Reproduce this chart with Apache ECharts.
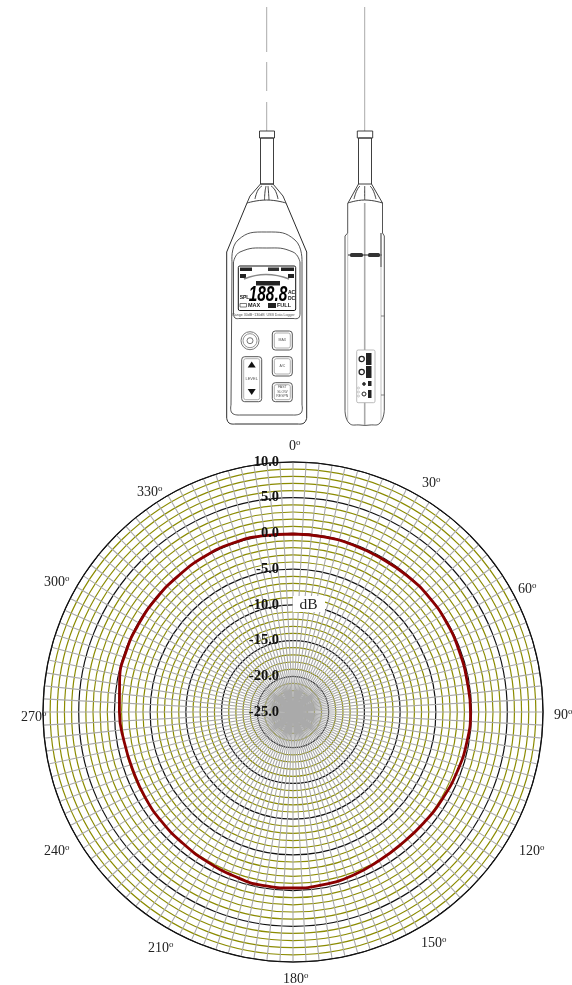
<!DOCTYPE html>
<html>
<head>
<meta charset="utf-8">
<style>html,body{margin:0;padding:0;background:#fff}#box{width:572px;height:985px;overflow:hidden}</style>
<script src="https://cdn.jsdelivr.net/npm/echarts@6/dist/echarts.min.js"></script>
</head>
<body>
<div id="box"></div>
<script>
var chart = echarts.init(document.getElementById('box'));

// response curve (degrees / dB)
var curveAngles = [0, 10, 20, 30, 40, 50, 60, 70, 80, 90, 100, 110, 120, 130, 140, 150, 160, 170, 180, 190, 200, 210, 220, 230, 240, 250, 260, 270, 280, 290, 300, 310, 320, 330, 340, 350, 360];
var curveDb = [-0.08, -0.1, -0.15, -0.2, -0.12, -0.08, -0.12, -0.22, -0.25, -0.15, -0.3, -0.55, -0.8, -1.0, -1.1, -0.95, -0.65, -0.45, -0.36, -0.35, -0.6, -0.85, -1.0, -1.05, -1.1, -1.15, -1.0, -0.7, -0.35, -0.15, -0.13, -0.12, -0.08, 0.05, 0.1, 0.03, -0.08];
var dbTicks = { min: -25, max: 10, step: 5 };
var angleTicks = { min: 0, max: 360, step: 30 };
var angleLabels = ['0', '30', '60', '90', '120', '150', '180', '210', '240', '270', '300', '330'];
// where each angle label starts (left edge, middle), the spacing round the rim is uneven
var angleLabelSpots = [[289, 446], [422, 483], [518, 589], [554, 715], [519, 851], [421, 943], [283, 979], [148, 948], [44, 851], [21, 717], [44, 582], [137, 492]];

var INK = '#2a2a2a';

// small helpers for the meter drawing
function line(pts, color, w) {
  return { type: 'polyline', silent: true, shape: { points: pts }, style: { stroke: color || INK, lineWidth: w || 0.9, fill: null } };
}
function box(x, y, w, h, r, stroke, fill, lw) {
  return { type: 'rect', silent: true, shape: { x: x, y: y, width: w, height: h, r: r || 0 }, style: { stroke: stroke === undefined ? INK : stroke, fill: fill || null, lineWidth: lw || 0.9 } };
}
function ring(x, y, r, stroke, fill, lw) {
  return { type: 'circle', silent: true, shape: { cx: x, cy: y, r: r }, style: { stroke: stroke || null, fill: fill || null, lineWidth: lw || 0.8 } };
}
function txt(s, x, y, size, o) {
  o = o || {};
  return { type: 'text', silent: true, x: x, y: y, scaleX: o.squeeze || 1, style: { text: s, fontSize: size, fontFamily: o.family || 'Liberation Sans', fontWeight: o.weight || 'normal', fontStyle: o.italic ? 'italic' : 'normal', fill: o.color || '#222', align: o.align || 'center', verticalAlign: 'middle' } };
}
function curve(pts, color, w) {
  return { type: 'polyline', silent: true, shape: { points: pts, smooth: 0.5 }, style: { stroke: color || INK, lineWidth: w || 0.9, fill: null } };
}

var meterFront = [
  // antenna, dashed
  line([[266.7, 7], [266.7, 52]], '#aaa', 1),
  line([[266.7, 62], [266.7, 91]], '#aaa', 1),
  line([[266.7, 102], [266.7, 131]], '#aaa', 1),
  box(259.5, 131, 15, 7, 0),
  box(260.5, 138, 13, 46, 0),
  // collar
  line([[260.5, 184], [273, 184]]),
  line([[260.5, 184], [250, 196], [247, 203]]),
  line([[273, 184], [283, 196], [286, 203]]),
  curve([[247, 203], [266.7, 200], [286, 203]]),
  curve([[255, 199], [258, 190], [262, 186]]),
  curve([[264.5, 200], [265, 192], [266, 186]]),
  curve([[269, 200], [268.5, 192], [268, 186]]),
  curve([[278, 199], [275, 190], [271, 186]]),
  // body
  line([[247, 203], [226.7, 252], [226.7, 418]], INK, 1),
  line([[286, 203], [306.7, 252], [306.7, 418]], INK, 1),
  curve([[226.7, 418], [229, 423], [235, 424]], INK, 1),
  curve([[306.7, 418], [304, 423], [298, 424]], INK, 1),
  line([[235, 424], [298, 424]], INK, 1),
  // face
  curve([[232, 262], [238, 240], [266.7, 232], [295, 240], [302, 262]], INK, 0.8),
  line([[232, 262], [231, 405]], INK, 0.8),
  line([[302, 262], [302, 405]], INK, 0.8),
  curve([[231, 405], [232, 413], [240, 415]], INK, 0.8),
  curve([[302, 405], [301, 413], [293, 415]], INK, 0.8),
  line([[240, 415], [293, 415]], INK, 0.8),
  // display bezel
  curve([[233.5, 262], [240, 252], [266.7, 248], [293, 252], [300, 262]], INK, 0.8),
  line([[233.5, 262], [233.5, 314]], INK, 0.8),
  line([[300, 262], [300, 314]], INK, 0.8),
  curve([[233.5, 314], [235, 318], [239, 318.5]], INK, 0.8),
  curve([[300, 314], [298.5, 318], [294, 318.5]], INK, 0.8),
  line([[239, 318.5], [294, 318.5]], INK, 0.8),
  // lcd
  box(238.3, 266, 57.4, 44.5, 1.5, '#111', null, 1),
  box(240, 267.5, 12, 3.5, 0, null, '#222'),
  box(268, 267.5, 11, 3.5, 0, null, '#333'),
  box(281, 267.5, 13, 3.5, 0, null, '#222'),
  box(240, 274, 6, 4, 0, null, '#222'),
  box(288, 274, 6, 4, 0, null, '#222'),
  curve([[244, 279], [266, 274.5], [289, 279]], '#888', 1.4),
  box(256, 281, 24, 4.5, 0, null, '#222'),
  txt('188.8', 268, 295, 22, { weight: 'bold', italic: true, color: '#000', squeeze: 0.7 }),
  txt('SPL', 244.5, 298, 5, { weight: 'bold', color: '#111' }),
  txt('AC', 291.5, 293, 5, { weight: 'bold', color: '#111' }),
  txt('DC', 291.5, 299, 5, { weight: 'bold', color: '#111' }),
  box(240, 303.5, 6.5, 3.5, 0, '#444', null, 0.7),
  txt('MAX', 254, 305.5, 5.5, { weight: 'bold', color: '#111' }),
  box(268, 303, 8, 5, 0, null, '#222'),
  txt('FULL', 284, 305.5, 5.5, { weight: 'bold', color: '#111' }),
  txt('Range 30dB~130dB', 248.5, 315, 3.6, { color: '#555' }),
  txt('USB Data Logger', 280.5, 315, 3.6, { color: '#555' }),
  // buttons
  ring(250, 340.7, 9, '#777', null, 1),
  ring(250, 340.7, 7, '#888', null, 0.9),
  ring(250, 340.7, 3, '#555', null, 0.8),
  box(272.3, 331, 20, 19, 3, '#555', null, 1),
  box(274.3, 333, 16, 15, 2, '#999', null, 0.8),
  txt('MAX', 282.3, 340.5, 3.5, { color: '#555' }),
  box(272.3, 356.7, 20, 19.3, 3, '#555', null, 1),
  box(274.3, 358.7, 16, 15.3, 2, '#999', null, 0.8),
  txt('A/C', 282.3, 366.5, 3.5, { color: '#555' }),
  box(272.3, 382.7, 20, 19, 3, '#555', null, 1),
  box(274.3, 384.7, 16, 15, 2, '#999', null, 0.8),
  txt('FAST', 282.3, 387.5, 3.5, { color: '#555' }),
  txt('SLOW', 282.3, 392, 3.5, { color: '#555' }),
  txt('RESPN', 282.3, 396.5, 3.5, { color: '#555' }),
  box(241.7, 356.7, 20, 45, 3, '#555', null, 1),
  box(243.7, 358.7, 16, 41, 2, '#999', null, 0.8),
  { type: 'polygon', silent: true, shape: { points: [[251.7, 361.5], [247.7, 367.5], [255.7, 367.5]] }, style: { fill: '#111' } },
  { type: 'polygon', silent: true, shape: { points: [[251.7, 395], [247.7, 389], [255.7, 389]] }, style: { fill: '#111' } },
  txt('LEVEL', 251.7, 379, 4, { color: '#555' })
];

var meterSide = [
  line([[364.7, 7], [364.7, 131]], '#aaa', 1),
  box(357.3, 131, 15.4, 7, 0),
  box(358.5, 138, 13, 46, 0),
  line([[358.5, 184], [348, 203]]),
  line([[371.5, 184], [382.5, 203]]),
  curve([[348, 203], [364.7, 200], [382.5, 203]]),
  curve([[354, 199], [357, 190], [360, 186]]),
  curve([[364.7, 200], [364.7, 192], [364.7, 186]]),
  curve([[376, 199], [373, 190], [370, 186]]),
  // body
  line([[347.7, 203], [347.7, 233], [345, 236], [345, 410]], INK, 0.8),
  line([[382.5, 203], [382.5, 233], [384.3, 236], [384.3, 410]], INK, 0.8),
  curve([[345, 410], [349, 423], [360, 425], [370, 425], [380, 423], [384.3, 410]], INK, 0.8),
  line([[347.7, 233], [347.7, 420]], '#999', 0.6),
  line([[381, 233], [381, 420]], '#999', 0.6),
  line([[364.7, 203], [364.7, 425]], '#aaa', 1.6),
  // strap lugs
  line([[348, 255], [382, 255]], '#222', 1),
  box(350, 253, 13, 4, 1.5, null, '#333'),
  box(368, 253, 12, 4, 1.5, null, '#333'),
  line([[381, 233], [381, 267]], '#777', 1.4),
  line([[381, 316], [384.3, 316]], '#555', 0.7),
  line([[381, 395], [384.3, 395]], '#555', 0.7),
  // socket panel
  box(356.7, 350, 18.3, 52.7, 1.5, '#aaa', '#fff', 0.8),
  ring(361.7, 359, 2.6, '#222', null, 1.3),
  box(366, 353, 5.5, 12, 0, null, '#222'),
  ring(361.7, 372, 2.6, '#222', null, 1.3),
  box(366, 366, 5.5, 12, 0, null, '#222'),
  ring(364, 384, 1.4, '#222', '#333', 0.8),
  box(368, 381, 3.5, 5, 0, null, '#222'),
  ring(364, 394, 2, '#222', null, 1),
  box(368, 390, 3.5, 8, 0, null, '#222'),
  ring(358.5, 388, 1, '#999', null, 0.5),
  ring(358.5, 392, 1, '#999', null, 0.5),
  ring(358.5, 396, 1, '#999', null, 0.5)
];

var angleLabelEls = angleLabels.map(function (s, i) {
  return {
    type: 'text', silent: true, x: angleLabelSpots[i][0], y: angleLabelSpots[i][1],
    style: {
      text: '{n|' + s + '}{s|o}', align: 'left', verticalAlign: 'middle',
      rich: {
        n: { fontFamily: 'Liberation Serif', fontSize: 14, fill: '#222', lineHeight: 16 },
        s: { fontFamily: 'Liberation Serif', fontSize: 9, fill: '#222', verticalAlign: 'top', lineHeight: 16 }
      }
    }
  };
});

var option = {
  animation: false,
  backgroundColor: '#fff',
  // second polar only carries the dB labels, so they sit above the grid
  polar: [
    { center: [293, 712], radius: 250 },
    { center: [293, 712], radius: 250 }
  ],
  angleAxis: [{
    type: 'value',
    polarIndex: 0,
    min: angleTicks.min,
    max: angleTicks.max,
    interval: angleTicks.step,
    startAngle: 90,
    clockwise: true,
    z: 2,
    axisLine: { show: true, lineStyle: { color: '#111', width: 1 } },
    axisTick: { show: false },
    axisLabel: { show: false },
    splitLine: { show: true, lineStyle: { color: '#aaa', width: 1.1 } },
    minorTick: { show: false, splitNumber: 10 },
    minorSplitLine: { show: true, lineStyle: { color: '#aaa', width: 1.1 } }
  }, {
    type: 'value',
    polarIndex: 1,
    min: angleTicks.min,
    max: angleTicks.max,
    startAngle: 90,
    show: false
  }],
  radiusAxis: [{
    type: 'value',
    polarIndex: 0,
    min: dbTicks.min,
    max: dbTicks.max,
    interval: dbTicks.step,
    z: 1,
    axisLine: { show: false },
    axisTick: { show: false },
    axisLabel: { show: false },
    splitLine: { show: true, lineStyle: { color: '#111', width: 1.2 } },
    minorTick: { show: false, splitNumber: 5 },
    minorSplitLine: { show: true, lineStyle: { color: '#8b8b00', width: 1.2 } }
  }, {
    type: 'value',
    polarIndex: 1,
    min: dbTicks.min,
    max: dbTicks.max,
    interval: dbTicks.step,
    z: 5,
    axisLine: { show: false },
    axisTick: { show: false },
    splitLine: { show: false },
    axisLabel: {
      margin: 14,
      fontFamily: 'Liberation Serif',
      fontSize: 14.5,
      fontWeight: 'bold',
      color: '#111',
      showMinLabel: true,
      showMaxLabel: true,
      formatter: function (v) { return v.toFixed(1); }
    }
  }],
  series: [{
    type: 'line',
    coordinateSystem: 'polar',
    polarIndex: 0,
    data: curveAngles.map(function (a, i) { return [curveDb[i], a]; }),
    showSymbol: false,
    smooth: 0.5,
    clip: false,
    lineStyle: { color: '#8b0000', width: 2.8 },
    z: 4
  }],
  graphic: {
    elements: meterFront.concat(meterSide).concat(angleLabelEls).concat([
      { type: 'rect', silent: true, z: 20, shape: { x: 293, y: 596, width: 32, height: 16 }, style: { fill: '#fff' } },
      { type: 'text', silent: true, z: 21, x: 308.5, y: 605, style: { text: 'dB', fontFamily: 'Liberation Serif', fontSize: 15.5, fill: '#222', align: 'center', verticalAlign: 'middle' } }
    ])
  }
};

chart.setOption(option);
</script>
</body>
</html>
